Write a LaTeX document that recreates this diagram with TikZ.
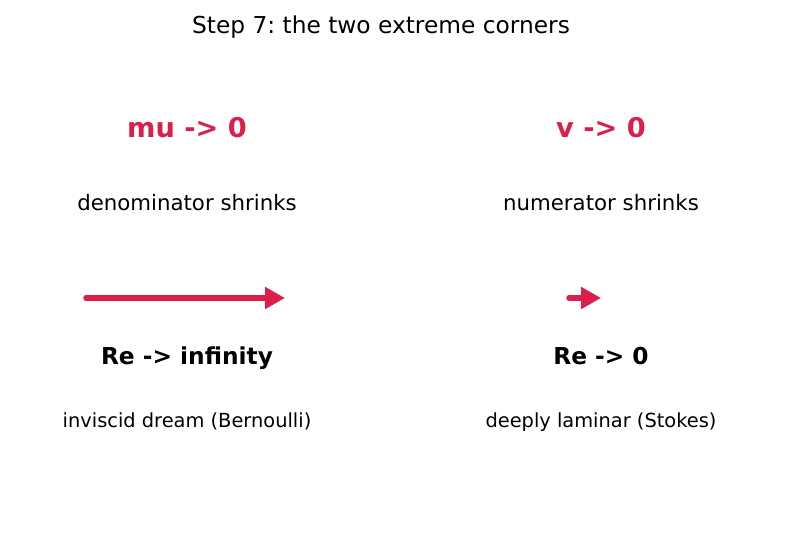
\documentclass[tikz,border=0pt]{standalone}
\usepackage{fontspec}
\setmainfont{DejaVu Sans}
\frenchspacing
\usetikzlibrary{arrows.meta}
\definecolor{crim}{HTML}{DC1E4B}
\tikzset{
  title/.style={font=\fontsize{23.3}{28}\selectfont, inner sep=0pt, anchor=base},
  head/.style={font=\fontsize{27.2}{32}\selectfont\bfseries, text=crim, inner sep=0pt, anchor=base},
  sub/.style={font=\fontsize{21.3}{26}\selectfont, inner sep=0pt, anchor=base},
  re/.style={font=\fontsize{23.3}{28}\selectfont\bfseries, inner sep=0pt, anchor=base},
  note/.style={font=\fontsize{19.4}{24}\selectfont, inner sep=0pt, anchor=base},
  flow/.style={draw=crim, line width=5.5pt, line cap=round, line join=round, -{Triangle[length=20pt,width=21pt]}},
}
\begin{document}
\begin{tikzpicture}[x=1pt,y=-1pt]
\useasboundingbox (0,0) rectangle (787,539);
\node[title] (t) at (381,33.5) {Step 7: the two extreme corners};
\node[head] (h1) at (187,137.5) {mu -> 0};
\node[head] (h2) at (601,137.5) {v -> 0};
\node[sub] (s1) at (187,210) {denominator shrinks};
\node[sub] (s2) at (601,210) {numerator shrinks};
\coordinate (a1s) at (86,298);
\coordinate (a1e) at (285,298);
\coordinate (a2s) at (569,298);
\coordinate (a2e) at (601,298);
\draw[flow] (a1s) -- (a1e);
\draw[flow] (a2s) -- (a2e);
\node[re] (r1) at (187,364.5) {Re -> infinity};
\node[re] (r2) at (601,364.5) {Re -> 0};
\node[note] (n1) at (187,427.5) {inviscid dream (Bernoulli)};
\node[note] (n2) at (601,427.5) {deeply laminar (Stokes)};
\end{tikzpicture}
\end{document}
